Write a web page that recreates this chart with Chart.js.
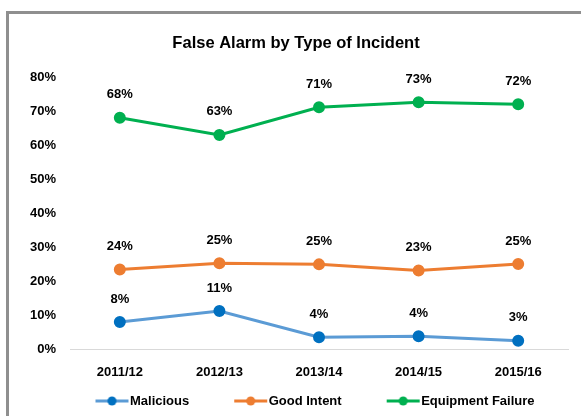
<!DOCTYPE html>
<html>
<head>
<meta charset="utf-8">
<script src="https://cdn.jsdelivr.net/npm/chart.js@4/dist/chart.umd.min.js"></script>
<style>
  html, body { margin: 0; padding: 0; background: #fff; }
  #frame {
    position: absolute; left: 6px; top: 11px;
    width: 572px; height: 402px;
    border-left: 3px solid #8f8f8f; border-top: 3px solid #8f8f8f;
  }
  #chart { display: block; }
</style>
</head>
<body>
<div id="frame"><canvas id="chart" width="572" height="402"></canvas></div>
<script>
// values (percent)
const years = ['2011/12', '2012/13', '2013/14', '2014/15', '2015/16'];
const malicious = [8.2, 11.4, 3.7, 4.0, 2.7];
const goodIntent = [23.6, 25.4, 25.1, 23.3, 25.2];
const equipmentFailure = [68.1, 63.1, 71.2, 72.7, 72.1];

const FONT = "'Liberation Sans', Arial, sans-serif";

// legend sample: empty gap on the left (spacing), then line with dot
function legendMark(lineColor, dotColor) {
    const c = document.createElement('canvas');
    c.width = 80; c.height = 12;
    const g = c.getContext('2d');
    g.strokeStyle = lineColor;
    g.lineWidth = 3;
    g.beginPath(); g.moveTo(45, 6); g.lineTo(78, 6); g.stroke();
    g.fillStyle = dotColor;
    g.beginPath(); g.arc(61.5, 6, 4.5, 0, Math.PI * 2); g.fill();
    return c;
}

// percentage labels above each point
const pointLabels = {
    id: 'pointLabels',
    afterDatasetsDraw(chart) {
        const ctx = chart.ctx;
        ctx.save();
        ctx.font = 'bold 13px ' + FONT;
        ctx.fillStyle = '#000';
        ctx.textAlign = 'center';
        ctx.textBaseline = 'middle';
        chart.data.datasets.forEach((ds, i) => {
            chart.getDatasetMeta(i).data.forEach((pt, j) => {
                ctx.fillText(Math.round(ds.data[j]) + '%', pt.x, pt.y - 23);
            });
        });
        ctx.restore();
    }
};

const series = [
    { label: 'Malicious', data: malicious, line: '#5B9BD5', dot: '#0070C0' },
    { label: 'Good Intent', data: goodIntent, line: '#ED7D31', dot: '#ED7D31' },
    { label: 'Equipment Failure', data: equipmentFailure, line: '#00B050', dot: '#00B050' }
];

new Chart(document.getElementById('chart'), {
    type: 'line',
    data: {
        labels: years,
        datasets: series.map(s => ({
            label: s.label,
            data: s.data,
            borderColor: s.line,
            backgroundColor: s.dot,
            pointBackgroundColor: s.dot,
            pointBorderColor: s.dot,
            borderWidth: 3,
            pointRadius: 4.5,
            pointHoverRadius: 4.5,
            tension: 0,
            legendMark: legendMark(s.line, s.dot)
        }))
    },
    options: {
        responsive: false,
        animation: false,
        layout: { padding: { left: 15, right: 13, top: 0, bottom: -1.5 } },
        scales: {
            x: {
                offset: true,
                grid: { display: false },
                border: { display: true, color: '#d9d9d9', width: 1 },
                ticks: { color: '#000', font: { family: FONT, size: 13, weight: 'bold' }, padding: 7, maxRotation: 0 }
            },
            y: {
                min: 0, max: 80,
                grid: { display: false },
                border: { display: false },
                ticks: {
                    stepSize: 10,
                    color: '#000',
                    padding: 6,
                    font: { family: FONT, size: 13, weight: 'bold' },
                    callback: v => v + '%'
                }
            }
        },
        plugins: {
            title: {
                display: true,
                text: 'False Alarm by Type of Incident',
                color: '#000',
                font: { family: FONT, size: 16.5, weight: 'bold' },
                padding: { top: 20, bottom: 23.5 }
            },
            legend: {
                position: 'bottom',
                labels: {
                    color: '#000',
                    font: { family: FONT, size: 13, weight: 'bold' },
                    usePointStyle: true,
                    pointStyleWidth: 66,
                    padding: 7,
                    generateLabels(chart) {
                        const items = Chart.defaults.plugins.legend.labels.generateLabels(chart);
                        items.forEach(it => { it.pointStyle = chart.data.datasets[it.datasetIndex].legendMark; });
                        return items;
                    }
                }
            },
            tooltip: { enabled: false }
        }
    },
    plugins: [pointLabels]
});
</script>
</body>
</html>
